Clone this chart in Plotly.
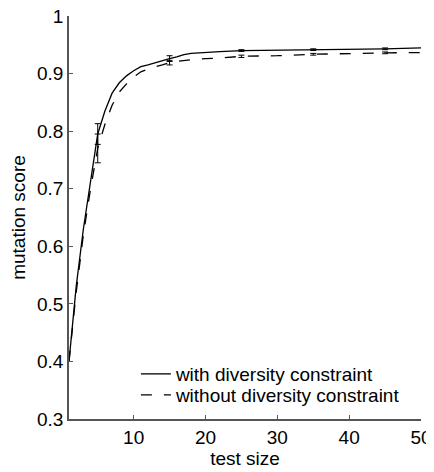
import plotly.graph_objects as go

# test sizes
x_vals = [1, 2, 3, 4, 5, 6, 7, 8, 9, 10, 11, 12, 13, 14, 15, 16, 17, 18, 20, 22, 25, 30, 35, 40, 45, 50]
with_div = [0.40, 0.53, 0.63, 0.71, 0.795, 0.835, 0.866, 0.884, 0.896, 0.905, 0.912, 0.915, 0.919, 0.923, 0.926,
            0.929, 0.933, 0.935, 0.936, 0.938, 0.940, 0.9405, 0.9415, 0.942, 0.943, 0.9445]
without_div = [0.40, 0.52, 0.62, 0.70, 0.770, 0.812, 0.845, 0.868, 0.882, 0.894, 0.903, 0.908, 0.912, 0.915, 0.919,
               0.921, 0.923, 0.924, 0.926, 0.927, 0.930, 0.931, 0.9335, 0.935, 0.936, 0.9365]

# error bars
err_x = [5, 15, 25, 35, 45]
with_err_mean = [0.795, 0.926, 0.940, 0.9415, 0.943]
with_err = [0.018, 0.005, 0.0015, 0.0015, 0.0015]
without_err_mean = [0.770, 0.919, 0.930, 0.9335, 0.936]
without_err = [0.025, 0.004, 0.002, 0.0015, 0.0015]

x_ticks = [10, 20, 30, 40, 50]
y_ticks = [0.3, 0.4, 0.5, 0.6, 0.7, 0.8, 0.9, 1.0]
y_tick_text = ["0.3", "0.4", "0.5", "0.6", "0.7", "0.8", "0.9", "1"]

FONT = "Liberation Sans, Arial, Helvetica, sans-serif"
FS = 19

fig = go.Figure()
fig.add_trace(go.Scatter(x=x_vals, y=with_div, mode="lines", name="with diversity constraint",
                         line=dict(color="black", width=1.3), legend="legend"))
fig.add_trace(go.Scatter(x=x_vals, y=without_div, mode="lines", name="without diversity constraint",
                         line=dict(color="black", width=1.3, dash="11px,12px"), legend="legend2"))
fig.add_trace(go.Scatter(x=err_x, y=with_err_mean, mode="markers", showlegend=False,
                         marker=dict(size=1, color="rgba(0,0,0,0)"),
                         error_y=dict(type="data", array=with_err, color="black", thickness=1, width=3)))
fig.add_trace(go.Scatter(x=err_x, y=without_err_mean, mode="markers", showlegend=False,
                         marker=dict(size=1, color="rgba(0,0,0,0)"),
                         error_y=dict(type="data", array=without_err, color="black", thickness=1, width=3)))

axis_common = dict(showline=True, linecolor="#555555", linewidth=1.5, ticks="inside", ticklen=4,
                   tickcolor="#555555", tickwidth=1, showgrid=False, zeroline=False, automargin=True,
                   ticklabeloverflow="allow",
                   tickfont=dict(family=FONT, size=FS, color="black"), mirror=False)

fig.update_xaxes(range=[1, 50], tickvals=x_ticks, ticktext=[str(v) for v in x_ticks],
                 title=dict(text="test size", font=dict(family=FONT, size=FS, color="black"), standoff=5),
                 **axis_common)
fig.update_yaxes(range=[0.3, 1.0], tickvals=y_ticks, ticktext=y_tick_text,
                 title=dict(text="mutation score", font=dict(family=FONT, size=FS, color="black"), standoff=8),
                 **axis_common)

leg_common = dict(x=0.19, xanchor="left", yanchor="middle", bgcolor="rgba(0,0,0,0)",
                  font=dict(family=FONT, size=FS, color="black"))
# page body adds an 8px offset, so figure is 8px smaller and margins shifted
fig.update_layout(
    width=426, height=464,
    margin=dict(l=61, r=13, t=8, b=53, autoexpand=False),
    plot_bgcolor="white", paper_bgcolor="white",
    font=dict(family=FONT, size=FS, color="black"),
    legend=dict(y=0.1116, **leg_common),
    legend2=dict(y=0.0595, **leg_common),
)

fig.write_html("out.html")
